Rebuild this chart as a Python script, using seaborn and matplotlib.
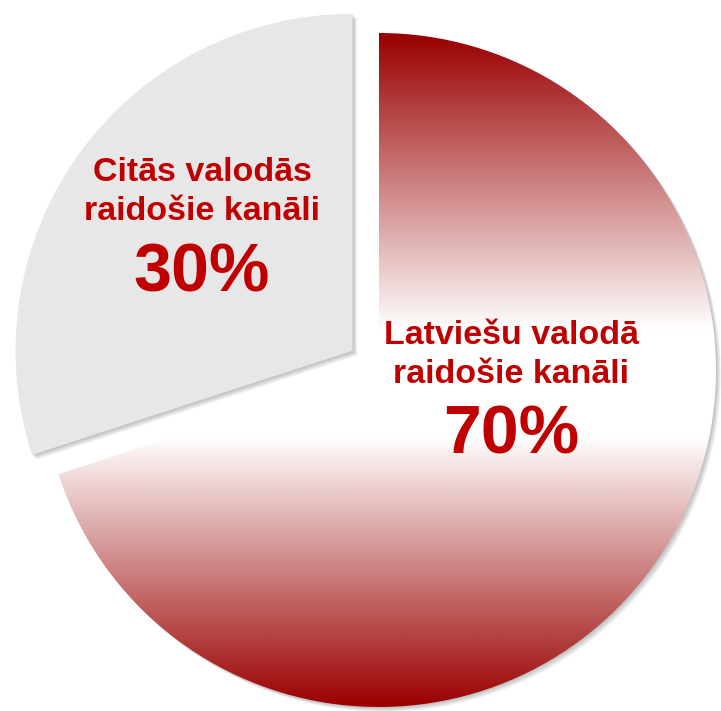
import numpy as np
import matplotlib
matplotlib.use("Agg")
import matplotlib.pyplot as plt
from matplotlib.patches import Wedge
from matplotlib.colors import LinearSegmentedColormap
import seaborn as sns

# =========================
# Data
# =========================

categories = ["Latviešu valodā\nraidošie kanāli", "Citās valodās\nraidošie kanāli"]
shares = [70, 30]

sns.set_theme(style="white")
plt.rcParams["font.family"] = ["Liberation Sans", "DejaVu Sans"]

text_red = "#C00000"
dark_red = "#9A0000"
grey = "#E7E7E7"

# =========================
# Plot
# =========================

fig = plt.figure(figsize=(7.21, 7.11), dpi=100)
ax = fig.add_axes([0, 0, 1, 1])

cx, cy, r = 379, 341, 337

# explode is in data units when radius != 1
wedges, _ = ax.pie(shares, startangle=90, counterclock=False,
                   center=(cx, cy), radius=r, explode=[0, 0.097 * r],
                   colors=["none", grey],
                   wedgeprops=dict(linewidth=0, zorder=2))

# soft drop shadow (down-right)
for w in wedges:
    for d in range(1, 7):
        sh = Wedge((w.center[0] + d * 0.8, w.center[1] - d * 0.8), w.r,
                   w.theta1, w.theta2, facecolor="black", alpha=0.045,
                   linewidth=0, zorder=1)
        ax.add_patch(sh)

# vertical red-white-red gradient for the main slice
cmap = LinearSegmentedColormap.from_list(
    "redwhite",
    [(0.0, dark_red), (0.40, "#FFFFFF"), (0.56, "#FFFFFF"), (1.0, dark_red)])
grad = np.linspace(0, 1, 512).reshape(-1, 1)
im = ax.imshow(grad, cmap=cmap, aspect="auto", origin="lower",
               extent=[cx - r, cx + r, cy - r, cy + r], zorder=3,
               interpolation="bilinear")
im.set_clip_path(wedges[0])

# =========================
# Labels
# =========================

label_pos = [(511, 367), (202, 530)]  # centre x, first baseline
for name, val, (lx, ly) in zip(categories, shares, label_pos):
    line1, line2 = name.split("\n")
    ax.text(lx, ly, line1, ha="center", va="baseline", fontsize=24.5,
            fontweight="bold", color=text_red, zorder=5)
    ax.text(lx, ly - 39, line2, ha="center", va="baseline", fontsize=24.5,
            fontweight="bold", color=text_red, zorder=5)
    ax.text(lx, ly - 110, f"{val}%", ha="center", va="baseline",
            fontsize=49, fontweight="bold", color=text_red, zorder=5)

ax.set_xlim(0, 721)
ax.set_ylim(0, 711)
ax.set_aspect("equal")
ax.axis("off")

fig.savefig("out.png", dpi=100)
